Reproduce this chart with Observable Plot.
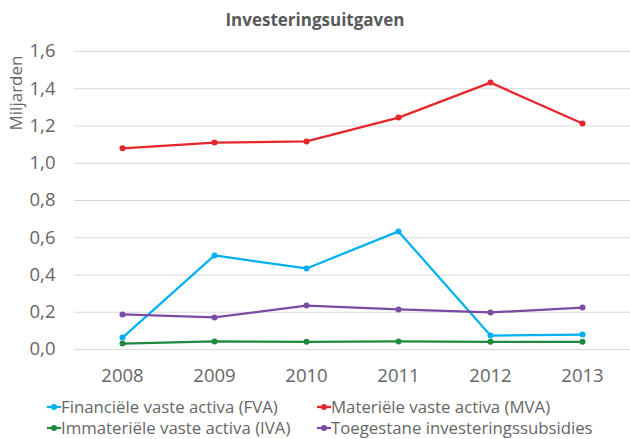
<!DOCTYPE html>
<html>
<head>
<meta charset="utf-8">
<script src="https://cdn.jsdelivr.net/npm/d3@7"></script>
<script src="https://cdn.jsdelivr.net/npm/@observablehq/plot@0.6"></script>
<style>
  html, body { margin: 0; padding: 0; background: #fff; overflow: hidden; }
  body { width: 630px; height: 439px; position: relative; font-family: "Open Sans", "Liberation Sans", sans-serif; color: #666; }
  #title { position: absolute; left: 0; top: 8px; width: 630px; text-align: center; font-weight: bold; font-size: 17px; color: #595959; z-index: 2; }
  #chart { position: absolute; left: 0; top: 30px; }
  #ylabel { position: absolute; left: 15px; top: 93px; transform: translate(-50%, -50%) rotate(-90deg); font-size: 17px; white-space: nowrap; color: #666; }
  .leg { position: absolute; font-size: 16.8px; line-height: 20px; white-space: nowrap; display: flex; align-items: center; color: #666; }
</style>
</head>
<body>
<div id="chart"></div>
<div id="title">Investeringsuitgaven</div>
<div id="ylabel">Miljarden</div>
<div id="legend"></div>
<script>
const years = ["2008", "2009", "2010", "2011", "2012", "2013"];
const seriesNames = [
  "Financiële vaste activa (FVA)",
  "Materiële vaste activa (MVA)",
  "Immateriële vaste activa (IVA)",
  "Toegestane investeringssubsidies"
];
const seriesColors = ["#00B0F0", "#E5262B", "#1F8A3F", "#7A4BA0"];
const fva = [0.064, 0.505, 0.435, 0.634, 0.075, 0.080];
const mva = [1.080, 1.111, 1.117, 1.245, 1.433, 1.213];
const iva = [0.032, 0.043, 0.041, 0.043, 0.041, 0.041];
const tis = [0.188, 0.172, 0.236, 0.215, 0.199, 0.225];
const yTicks = [0, 0.2, 0.4, 0.6, 0.8, 1.0, 1.2, 1.4, 1.6];

const seriesValues = [fva, mva, iva, tis];
const data = [];
seriesNames.forEach((name, i) => {
  years.forEach((yr, j) => data.push({series: name, year: yr, value: seriesValues[i][j]}));
});

const chart = Plot.plot({
  width: 630,
  height: 362,
  marginLeft: 74,
  marginRight: 0,
  marginTop: 21,
  marginBottom: 43,
  style: {fontFamily: '"Open Sans", "Liberation Sans", sans-serif', fontSize: "18.5px", color: "#666", background: "transparent", overflow: "visible"},
  x: {type: "point", domain: years, padding: 0.5, label: null},
  y: {domain: [0, 1.6], ticks: yTicks, label: null},
  color: {domain: seriesNames, range: seriesColors},
  marks: [
    Plot.ruleY(yTicks, {stroke: "#d9d9d9", strokeWidth: 1}),
    Plot.axisY({ticks: yTicks, tickSize: 0, tickPadding: 19, tickFormat: d => d.toFixed(1).replace(".", ","), label: null, fill: "#666"}),
    Plot.axisX({tickSize: 0, tickPadding: 19, label: null, fill: "#666"}),
    Plot.line(data, {x: "year", y: "value", z: "series", stroke: "series", strokeWidth: 2.25}),
    Plot.dot(data, {x: "year", y: "value", fill: "series", r: 3})
  ]
});
document.getElementById("chart").appendChild(chart);

// legend
const legPos = [[47, 397], [317, 397], [47, 418], [317, 418]];
const legend = document.getElementById("legend");
seriesNames.forEach((name, i) => {
  const div = document.createElement("div");
  div.className = "leg";
  div.style.left = legPos[i][0] + "px";
  div.style.top = legPos[i][1] + "px";
  div.innerHTML = `<svg width="14" height="10"><line x1="0" y1="5" x2="14" y2="5" stroke="${seriesColors[i]}" stroke-width="2.25"/><circle cx="7" cy="5" r="3" fill="${seriesColors[i]}"/></svg>` + name;
  legend.appendChild(div);
});
</script>
</body>
</html>
